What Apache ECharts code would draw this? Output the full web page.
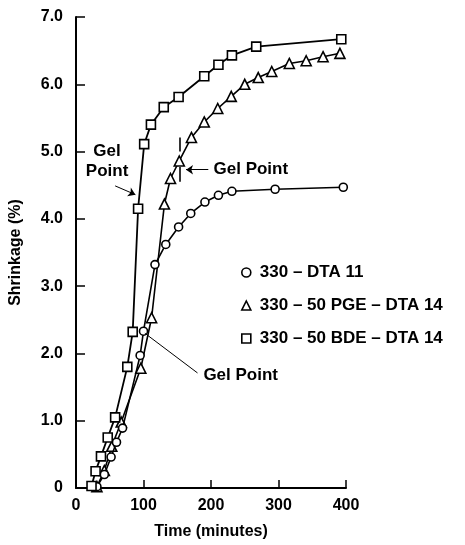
<!DOCTYPE html>
<html>
<head>
<meta charset="utf-8">
<script src="https://cdn.jsdelivr.net/npm/echarts@6/dist/echarts.min.js"></script>
<style>
  html, body { margin: 0; padding: 0; background: #fff; }
  #chart { width: 465px; height: 545px; }
</style>
</head>
<body>
<div id="chart"></div>
<script>
const chart = echarts.init(document.getElementById("chart"));

// ==========================
// DATA
// ==========================

const SERIES_NAMES = ["330 – DTA 11", "330 – 50 PGE – DTA 14", "330 – 50 BDE – DTA 14"];

const timeDTA = [31, 42, 52, 60, 69, 95, 100, 117, 133, 152, 170, 191, 211, 231, 295, 396];
const shrinkDTA = [0.02, 0.2, 0.46, 0.68, 0.89, 1.97, 2.33, 3.32, 3.62, 3.88, 4.08, 4.25, 4.35, 4.41, 4.44, 4.47];

const timePGE = [31, 42, 53, 67, 96, 112, 131, 140, 153, 171, 190, 210, 230, 250, 270, 290, 316, 341, 366, 391];
const shrinkPGE = [0.02, 0.26, 0.62, 0.98, 1.78, 2.53, 4.22, 4.6, 4.86, 5.21, 5.44, 5.64, 5.82, 6.0, 6.1, 6.19, 6.31, 6.35, 6.41, 6.46];

const timeBDE = [23, 29, 37, 47, 58, 76, 84, 92, 101, 111, 130, 152, 190, 211, 231, 267, 393];
const shrinkBDE = [0.03, 0.25, 0.47, 0.75, 1.05, 1.8, 2.32, 4.15, 5.11, 5.4, 5.66, 5.81, 6.12, 6.29, 6.43, 6.56, 6.67];

const X_TICKS = [0, 100, 200, 300, 400];
const Y_TICKS = [0, 1, 2, 3, 4, 5, 6, 7];

// gel point annotations (data coordinates)
const gelBDE = { text: [46, 4.85], arrow: [[58, 4.49], [88, 4.36]] };
const gelPGE = { text: [259, 4.73], arrow: [[196, 4.73], [163, 4.73]], tick: [[154, 5.21], [154, 5.0], [154, 4.77], [154, 4.55]] };
const gelDTA = { text: [244, 1.68], arrow: [[102, 2.3], [180, 1.71]] };

const zip = (xs, ys) => xs.map((x, i) => [x, ys[i]]);

// ==========================
// STYLES
// ==========================

const FONT = "Liberation Sans";
const INK = "#000";

const hollow = { color: "#fff", borderColor: INK, borderWidth: 1.6 };

function gelText(coord, text) {
  return {
    coord: coord,
    symbol: "circle",
    symbolSize: 1,
    itemStyle: { color: "rgba(0,0,0,0)" },
    label: {
      show: true,
      position: "inside",
      formatter: text,
      color: INK,
      fontFamily: FONT,
      fontWeight: "bold",
      fontSize: 17,
      lineHeight: 20,
      align: "center"
    }
  };
}

function segment(a, b, arrow, width) {
  return [
    { coord: a, symbol: "none", lineStyle: { width: width } },
    { coord: b, symbol: arrow ? "arrow" : "none" }
  ];
}

const markLineBase = {
  silent: true,
  symbolSize: 7,
  label: { show: false },
  lineStyle: { color: INK, type: "solid", width: 1 },
  emphasis: { disabled: true }
};

// ==========================
// OPTION
// ==========================

chart.setOption({
  animation: false,
  grid: { left: 76, right: 119, top: 17, bottom: 54 },

  legend: {
    orient: "vertical",
    left: 236,
    top: 259,
    itemWidth: 9,
    itemHeight: 9,
    itemGap: 16,
    selectedMode: false,
    data: [
      { name: SERIES_NAMES[0], icon: "circle" },
      { name: SERIES_NAMES[1], icon: "triangle" },
      { name: SERIES_NAMES[2], icon: "rect" }
    ],
    itemStyle: hollow,
    textStyle: {
      color: INK,
      fontFamily: FONT,
      fontWeight: "bold",
      fontSize: 17,
      padding: [0, 0, 0, 4]
    }
  },

  xAxis: {
    type: "value",
    min: X_TICKS[0],
    max: X_TICKS[X_TICKS.length - 1],
    interval: 100,
    name: "Time (minutes)",
    nameLocation: "middle",
    nameGap: 36,
    nameTextStyle: { color: INK, fontFamily: FONT, fontWeight: "bold", fontSize: 16 },
    axisLine: { lineStyle: { color: INK, width: 2 } },
    axisTick: { inside: true, length: 8, lineStyle: { color: INK, width: 1.5 } },
    axisLabel: { color: INK, fontFamily: FONT, fontWeight: "bold", fontSize: 16, margin: 10 },
    splitLine: { show: false }
  },

  yAxis: {
    type: "value",
    min: Y_TICKS[0],
    max: Y_TICKS[Y_TICKS.length - 1],
    interval: 1,
    name: "Shrinkage (%)",
    nameLocation: "middle",
    nameGap: 52,
    nameTextStyle: { color: INK, fontFamily: FONT, fontWeight: "bold", fontSize: 16 },
    axisLine: { show: true, lineStyle: { color: INK, width: 2 } },
    axisTick: { inside: true, length: 9, lineStyle: { color: INK, width: 1.5 } },
    axisLabel: {
      color: INK,
      fontFamily: FONT,
      fontWeight: "bold",
      fontSize: 16,
      margin: 13,
      formatter: v => (v === 0 ? "0" : v.toFixed(1))
    },
    splitLine: { show: false }
  },

  series: [
    {
      name: SERIES_NAMES[0],
      type: "line",
      data: zip(timeDTA, shrinkDTA),
      symbol: "circle",
      symbolSize: 8,
      itemStyle: hollow,
      lineStyle: { color: INK, width: 1.6 },
      z: 3,
      markLine: Object.assign({}, markLineBase, {
        data: [segment(gelDTA.arrow[0], gelDTA.arrow[1], false, 1)]
      }),
      markPoint: { silent: true, data: [gelText(gelDTA.text, "Gel Point")] }
    },
    {
      name: SERIES_NAMES[1],
      type: "line",
      data: zip(timePGE, shrinkPGE),
      symbol: "triangle",
      symbolSize: 10,
      itemStyle: hollow,
      lineStyle: { color: INK, width: 1.6 },
      z: 2,
      markLine: Object.assign({}, markLineBase, {
        data: [
          segment(gelPGE.arrow[0], gelPGE.arrow[1], true, 1),
          segment(gelPGE.tick[0], gelPGE.tick[1], false, 1.6),
          segment(gelPGE.tick[2], gelPGE.tick[3], false, 1.6)
        ]
      }),
      markPoint: { silent: true, data: [gelText(gelPGE.text, "Gel Point")] }
    },
    {
      name: SERIES_NAMES[2],
      type: "line",
      data: zip(timeBDE, shrinkBDE),
      symbol: "rect",
      symbolSize: 9,
      itemStyle: hollow,
      lineStyle: { color: INK, width: 1.8 },
      z: 4,
      markLine: Object.assign({}, markLineBase, {
        data: [segment(gelBDE.arrow[0], gelBDE.arrow[1], true, 1)]
      }),
      markPoint: { silent: true, data: [gelText(gelBDE.text, "Gel\nPoint")] }
    }
  ]
});
</script>
</body>
</html>
